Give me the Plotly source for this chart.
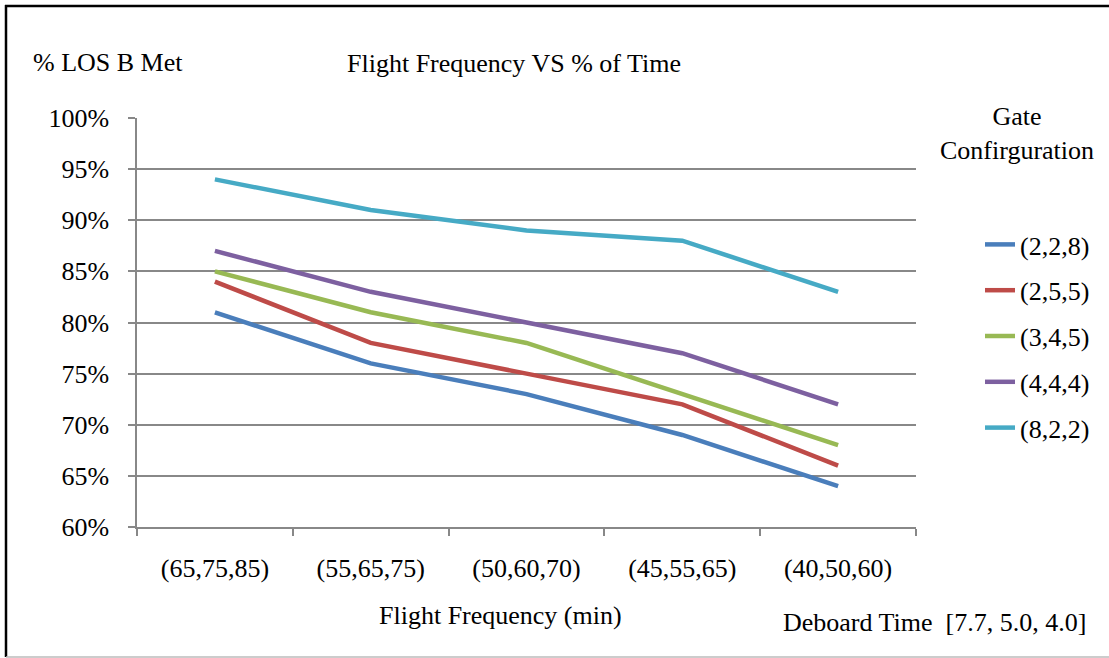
import plotly.graph_objects as go

categories = ["(65,75,85)", "(55,65,75)", "(50,60,70)", "(45,55,65)", "(40,50,60)"]
series_names = ["(2,2,8)", "(2,5,5)", "(3,4,5)", "(4,4,4)", "(8,2,2)"]
s_228 = [0.81, 0.76, 0.73, 0.69, 0.64]
s_255 = [0.84, 0.78, 0.75, 0.72, 0.66]
s_345 = [0.85, 0.81, 0.78, 0.73, 0.68]
s_444 = [0.87, 0.83, 0.80, 0.77, 0.72]
s_822 = [0.94, 0.91, 0.89, 0.88, 0.83]
colors = ["#4A7EBB", "#BE4B48", "#98B954", "#7D60A0", "#46AAC5"]

W, H = 1109, 658
L, R, T, B = 137, 916, 118, 527

def px(x):
    return (x - L) / (R - L)

def py(y):
    return (B - y) / (B - T)

FONT = "Liberation Serif"
FS = 25
AFS = 26

fig = go.Figure()
for i, (name, vals) in enumerate(zip(series_names, [s_228, s_255, s_345, s_444, s_822])):
    fig.add_trace(go.Scatter(
        x=categories, y=vals, mode="lines", name=name,
        legendgroup=name,
        line=dict(color=colors[i], width=4.5),
    ))

fig.update_layout(
    width=W, height=H,
    margin=dict(l=L, r=W - R, t=T, b=H - B),
    paper_bgcolor="white", plot_bgcolor="white",
    font=dict(family=FONT, size=FS, color="black"),
    showlegend=True,
    legend=dict(
        x=px(980), xanchor="left", y=py(221), yanchor="top",
        traceorder="grouped", tracegroupgap=9,
        font=dict(family=FONT, size=AFS, color="black"),
        bgcolor="rgba(0,0,0,0)",
    ),
    xaxis=dict(
        type="category", tickson="boundaries", range=[-0.5, 4.5],
        showline=True, linecolor="#888888", linewidth=1.5,
        ticks="outside", ticklen=7, tickcolor="#888888", tickwidth=1.5,
        showgrid=False, ticklabelstandoff=17,
        tickfont=dict(family=FONT, size=AFS, color="black"),
    ),
    yaxis=dict(
        range=[0.60, 1.00], dtick=0.05, tick0=0.60, tickformat=".0%",
        showline=True, linecolor="#888888", linewidth=1.5,
        ticks="outside", ticklen=7, tickcolor="#888888", tickwidth=1.5,
        showgrid=True, gridcolor="#888888", gridwidth=1.5,
        zeroline=False, ticklabelstandoff=14,
        tickfont=dict(family=FONT, size=AFS, color="black"),
    ),
)

annotations = [
    dict(text="% LOS B Met", x=px(108), y=py(62)),
    dict(text="Flight Frequency VS % of Time", x=px(514), y=py(63)),
    dict(text="Gate<br>Confirguration", x=px(1017), y=py(134)),
    dict(text="Flight Frequency (min)", x=px(500), y=py(615)),
    dict(text="Deboard Time  [7.7, 5.0, 4.0]", x=px(934), y=py(622)),
]
for a in annotations:
    fig.add_annotation(
        xref="paper", yref="paper", showarrow=False,
        xanchor="center", yanchor="middle",
        font=dict(family=FONT, size=AFS, color="black"),
        **a,
    )

# outer frame
fig.add_shape(type="line", xref="paper", yref="paper",
              x0=px(6), x1=px(6), y0=py(5), y1=py(657),
              line=dict(color="black", width=2.5))
fig.add_shape(type="line", xref="paper", yref="paper",
              x0=px(5), x1=px(1109), y0=py(6), y1=py(6),
              line=dict(color="black", width=2.5))
fig.add_shape(type="line", xref="paper", yref="paper",
              x0=px(6), x1=px(1109), y0=py(657), y1=py(657),
              line=dict(color="#BBBBBB", width=1.5))

fig.write_html("out.html")
